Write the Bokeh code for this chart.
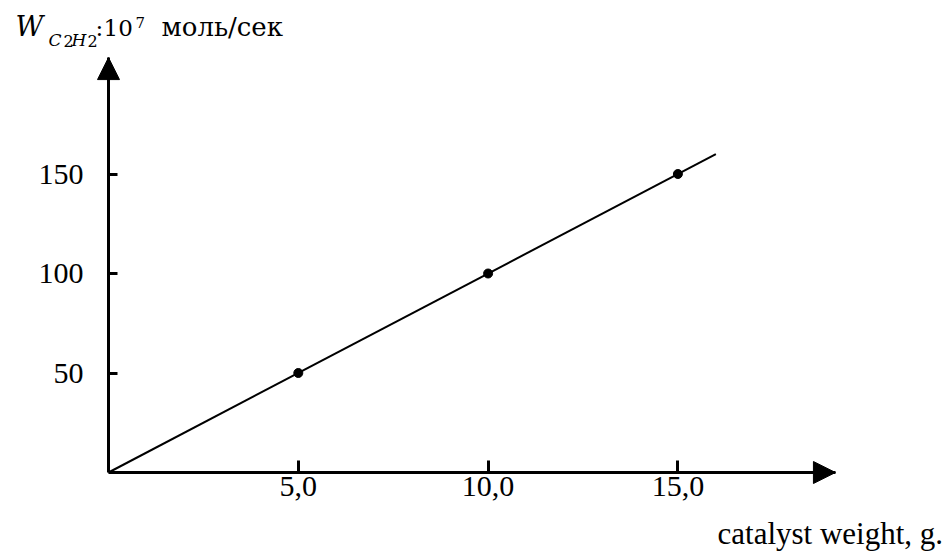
from bokeh.plotting import figure
from bokeh.models import Range1d, FixedTicker, Arrow, NormalHead, Label, LinearAxis
from bokeh.embed import file_html
from bokeh.resources import INLINE

# ---- data ----
catalyst_weight = [5.0, 10.0, 15.0]
rate = [50, 100, 150]
fit_x = [0.0, 16.0]
fit_y = [0.0, 160.0]
x_ticks = [5, 10, 15]
x_tick_labels = ["5,0", "10,0", "15,0"]
y_ticks = [50, 100, 150]
y_tick_labels = ["50", "100", "150"]
x_axis_label = "catalyst weight, g."
y_label_parts = ["W", "C", "2", "H", "2", ":", "10", "7", "моль/сек"]
x_axis_max = 19.15
y_axis_max = 208.5

# ---- layout (pixel mapping of the frame = whole canvas) ----
W, H = 950, 557
X0_PX, KX = 108.0, 37.96   # px of x=0, px per unit
Y0_PX, KY = 472.0, 1.99    # px of y=0 (from top), px per unit

x_range = Range1d(-X0_PX / KX, (W - X0_PX) / KX)
y_range = Range1d(-(H - Y0_PX) / KY, Y0_PX / KY)

p = figure(width=W, height=H, output_backend="svg", toolbar_location=None,
           x_range=x_range, y_range=y_range,
           x_axis_location=None, y_axis_location=None,
           min_border=0)
p.outline_line_color = None
p.grid.visible = False
p.background_fill_color = "white"
p.border_fill_color = "white"

xax = LinearAxis(fixed_location=0, bounds=(0, x_axis_max),
                 ticker=FixedTicker(ticks=x_ticks),
                 major_label_overrides=dict(zip(x_ticks, x_tick_labels)))
yax = LinearAxis(fixed_location=0, bounds=(0, y_axis_max),
                 ticker=FixedTicker(ticks=y_ticks),
                 major_label_overrides=dict(zip(y_ticks, y_tick_labels)))
p.add_layout(xax, "below")
p.add_layout(yax, "left")

for ax in (xax, yax):
    ax.axis_line_width = 3
    ax.axis_line_color = "black"
    ax.major_tick_line_width = 3
    ax.major_tick_line_color = "black"
    ax.major_tick_out = 0
    ax.minor_tick_line_color = None
    ax.major_label_text_font = "Liberation Serif"
    ax.major_label_text_font_size = "30px"
    ax.major_label_text_color = "black"

xax.major_tick_in = 12
yax.major_tick_in = 9
xax.major_label_standoff = 4
yax.major_label_standoff = 25

# arrow heads at axis ends
p.add_layout(Arrow(end=NormalHead(size=22, fill_color="black", line_color="black"),
                   x_start=x_axis_max - 0.5, y_start=0, x_end=x_axis_max, y_end=0,
                   line_width=3, line_color="black"))
p.add_layout(Arrow(end=NormalHead(size=22, fill_color="black", line_color="black"),
                   x_start=0, y_start=y_axis_max - 5, x_end=0, y_end=y_axis_max,
                   line_width=3, line_color="black"))

# fitted line and points
p.line(fit_x, fit_y, line_width=2, line_color="black")
p.scatter(catalyst_weight, rate, size=9, color="black")


def add_text(txt, ref_x, ref_baseline, size, font, style="normal"):
    # screen coords are frame-relative (frame = whole canvas); compensate label box offset
    p.add_layout(Label(x=ref_x, y=H - ref_baseline + 0.4 * size,
                       x_units="screen", y_units="screen",
                       text=txt, text_font=font, text_font_size=f"{size}px",
                       text_font_style=style, text_color="black",
                       text_baseline="alphabetic", text_align="left"))


# x-axis title
add_text(x_axis_label, 717, 545, 31, "Liberation Serif")

# y-axis title pieces
pieces = [
    (y_label_parts[0], 15, 36.7, 27, "italic"),
    (y_label_parts[1], 48, 46.7, 17, "italic"),
    (y_label_parts[2], 63, 46.7, 16, "normal"),
    (y_label_parts[3], 71, 46.7, 17, "italic"),
    (y_label_parts[4], 87, 46.7, 16, "normal"),
    (y_label_parts[5], 95, 36.7, 23, "normal"),
    (y_label_parts[6], 103, 36.7, 23, "normal"),
    (y_label_parts[7], 135, 28, 15, "normal"),
    (y_label_parts[8], 161, 36.7, 26, "normal"),
]
for txt, rx, ry, size, style in pieces:
    add_text(txt, rx, ry, size, "DejaVu Serif", style)

open("out.html", "w").write(file_html(p, INLINE))
